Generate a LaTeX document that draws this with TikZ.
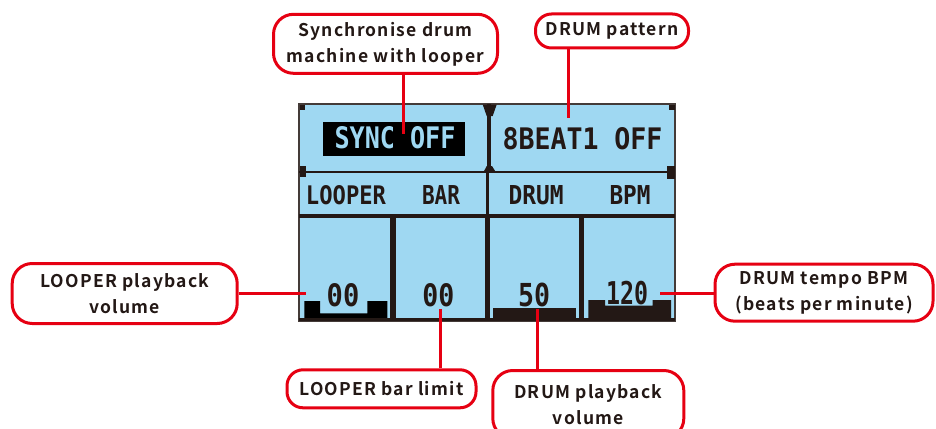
\documentclass[tikz,border=0pt]{standalone}
\usepackage{fontspec}
\usepackage{graphicx}
\newfontfamily\callfont{Noto Sans CJK SC Bold}[LetterSpace=7]
\newfontfamily\lcdfont{DejaVu Sans Mono Bold}
\definecolor{cred}{HTML}{E60012}
\definecolor{ink}{HTML}{231815}
\definecolor{lcdblue}{HTML}{9FD8F2}
\newcommand{\lcd}[3]{\resizebox{#1pt}{#2pt}{\lcdfont #3}}
\begin{document}
\begin{tikzpicture}[x=1pt,y=-1pt,
  callout/.style={draw=cred, line width=3pt, fill=white, rounded corners=20pt,
    font=\callfont\fontsize{17.5}{26}\selectfont, text=ink, align=center, inner sep=0pt},
  smallcall/.style={callout, rounded corners=16pt},
  link/.style={draw=cred, line width=3pt},
  lcdtext/.style={inner sep=0pt, text=ink},
  grid/.style={draw=ink},
]
\useasboundingbox (0,0) rectangle (936,428);
% screen background
\fill[lcdblue] (299.5,104.5) rectangle (674.5,320);
% black bars
\fill[black] (304.3,301) -- (320,301) -- (320,313.3) -- (367.3,313.3) -- (367.3,301) -- (387.3,301) -- (387.3,320) -- (304.3,320) -- cycle;
\fill[ink] (493,307.7) rectangle (576,320);
\fill[ink] (588.3,300) -- (605,300) -- (605,305.7) -- (652.7,305.7) -- (652.7,300) -- (671,300) -- (671,320) -- (588.3,320) -- cycle;
% outer frame
\draw[draw=ink!85, line width=1.3pt] (299,104) rectangle (675,321);
\draw[grid, line width=3pt] (299,319.7) -- (675,319.7);
% grid lines
\draw[grid, line width=2.3pt] (299,172) -- (675,172);
\draw[grid, line width=4pt] (299,215.5) -- (675,215.5);
\draw[grid, line width=5.5pt] (393,215) -- (393,320);
\draw[grid, line width=5pt] (487.5,215) -- (487.5,320);
\draw[grid, line width=5.5pt] (581.7,215) -- (581.7,320);
\draw[grid, line width=3pt] (487.5,172) -- (487.5,215);
\draw[grid, line width=4.5pt] (489,104) -- (489,172);
% divider caps
\fill[ink] (482.7,104.5) -- (496.7,104.5) -- (492.7,116) -- (486.7,116) -- cycle;
\fill[ink] (486.7,166) -- (492,166) -- (496,172.5) -- (483.3,172.5) -- cycle;
% corner blobs
\fill[ink] (299.5,104.5) rectangle (304.5,109.5);
\fill[ink] (674.5,104.5) rectangle (669,110);
\fill[ink] (299.5,166) rectangle (306,177);
\fill[ink] (674.5,165.5) rectangle (667,178.5);
% sync box
\fill[black] (323.3,121.7) rectangle (464.7,155.7);
% screen texts
\node[lcdtext, text=lcdblue] (tsyn) at (395,138) {\lcd{121}{22}{SYNC OFF}};
\node[lcdtext] (tbeat) at (582.5,138.3) {\lcd{160}{22}{8BEAT1 OFF}};
\node[lcdtext] (tloop) at (346,194.7) {\lcd{80}{19}{LOOPER}};
\node[lcdtext] (tbar) at (441,194.7) {\lcd{38}{19}{BAR}};
\node[lcdtext] (tdrum) at (536,194.7) {\lcd{55}{19}{DRUM}};
\node[lcdtext] (tbpm) at (630,194.7) {\lcd{41}{19}{BPM}};
\node[lcdtext] (vloop) at (343,295) {\lcd{32.6}{23}{00}};
\node[lcdtext] (vbar) at (438.3,295) {\lcd{32}{23}{00}};
\node[lcdtext] (vdrum) at (534,295) {\lcd{32}{23.5}{50}};
\node[lcdtext] (vbpm) at (627,293.3) {\lcd{42}{23.3}{120}};
% target coordinates
\coordinate (psync) at (403,134);
\coordinate (ppat) at (568.5,118);
\coordinate (plpv) at (306,293);
\coordinate (plbl) at (440.5,309);
\coordinate (pdpv) at (537.3,309);
\coordinate (pdtb) at (660,293);
% callouts
\node[callout, minimum width=224pt, minimum height=59pt] (sync) at (385.5,43.8) {Synchronise drum\\machine with looper};
\node[smallcall, minimum width=153pt, minimum height=34pt] (pattern) at (612,31) {DRUM pattern};
\node[callout, minimum width=225pt, minimum height=60pt] (lpv) at (124.7,293.5) {LOOPER playback\\volume};
\node[smallcall, minimum width=189pt, minimum height=38pt] (lbl) at (381.5,388.8) {LOOPER bar limit};
\node[callout, minimum width=191pt, minimum height=68pt] (dpv) at (588.3,404.5) {DRUM playback\\volume};
\node[callout, minimum width=218pt, minimum height=57pt] (dtb) at (824,292.7) {DRUM tempo BPM\\(beats per minute)};
% connectors
\draw[link] (psync |- sync.south) -- (psync);
\draw[link] (ppat |- pattern.south) -- (ppat);
\draw[link] (lpv.east |- plpv) -- (plpv);
\draw[link] (plbl |- lbl.north) -- (plbl);
\draw[link] (pdpv |- dpv.north) -- (pdpv);
\draw[link] (dtb.west |- pdtb) -- (pdtb);
\end{tikzpicture}
\end{document}
